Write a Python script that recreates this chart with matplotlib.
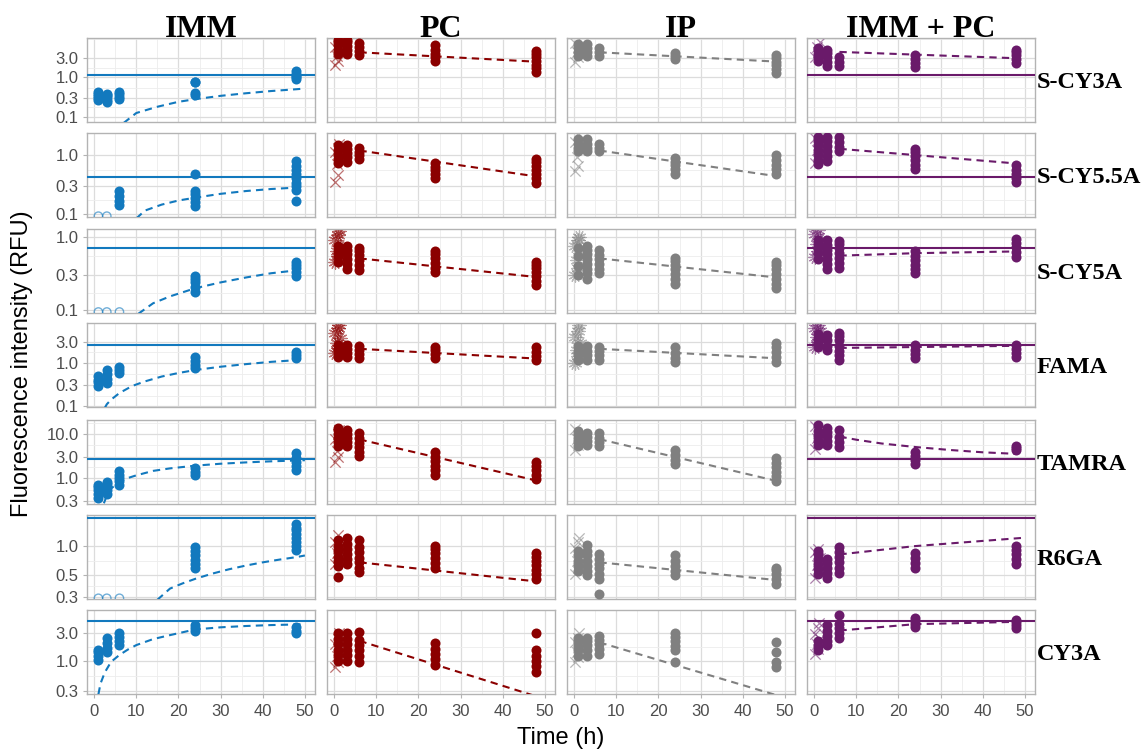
import matplotlib
matplotlib.use('Agg')
import matplotlib.pyplot as plt

# --------- Data ---------
times = [1, 3, 6, 24, 48]
cross_t = [0.3, 1.0, 0.6, 1.4, 0.1, 0.8, 1.2]
columns = ['IMM', 'PC', 'IP', 'IMM + PC']
dyes = ['S-CY3A', 'S-CY5.5A', 'S-CY5A', 'FAMA', 'TAMRA', 'R6GA', 'CY3A']
ref_level = [1.15, 0.42, 0.71, 2.56, 2.62, 1.93, 4.85]
y_ticks = [[0.1, 0.3, 1, 3], [0.1, 0.3, 1], [0.1, 0.3, 1], [0.1, 0.3, 1, 3],
           [0.3, 1, 3, 10], [0.3, 0.5, 1], [0.3, 1, 3]]
y_lims = [(0.074, 9.9), (0.09, 2.3), (0.092, 1.28), (0.095, 8.3),
          (0.26, 20.3), (0.285, 2.09), (0.265, 7.46)]

# points at times 1, 3, 6, 24, 48
imm_points = {
    'S-CY3A': [[0.27, 0.30, 0.34, 0.38, 0.42], [0.24, 0.27, 0.31, 0.35, 0.38], [0.28, 0.32, 0.37, 0.42],
               [0.36, 0.40, 0.74, 0.78], [0.9, 1.0, 1.1, 1.25, 1.45]],
    'S-CY5.5A': [[], [], [0.144, 0.17, 0.2, 0.25], [0.138, 0.16, 0.19, 0.22, 0.25, 0.48],
                 [0.17, 0.26, 0.3, 0.34, 0.4, 0.47, 0.55, 0.65, 0.77]],
    'S-CY5A': [[], [], [], [0.18, 0.21, 0.24, 0.27, 0.29], [0.29, 0.33, 0.38, 0.42, 0.46]],
    'FAMA': [[0.29, 0.35, 0.41, 0.49], [0.34, 0.43, 0.54, 0.68], [0.58, 0.68, 0.8],
             [0.75, 0.9, 1.1, 1.35], [1.28, 1.5, 1.77]],
    'TAMRA': [[0.36, 0.44, 0.53, 0.62, 0.7], [0.44, 0.53, 0.64, 0.74, 0.82], [0.7, 0.85, 1.0, 1.2, 1.47],
              [1.19, 1.4, 1.72], [1.55, 1.9, 2.3, 2.8, 3.6]],
    'R6GA': [[], [], [], [0.59, 0.65, 0.72, 0.8, 0.88, 0.97],
             [0.92, 1.0, 1.1, 1.2, 1.32, 1.45, 1.55, 1.68]],
    'CY3A': [[1.02, 1.2, 1.38, 1.55], [1.38, 1.65, 2.0, 2.5], [1.83, 2.2, 2.6, 2.96],
             [3.3, 3.7, 4.1], [2.95, 3.3, 3.8]],
}
imm_lod_times = {'S-CY5.5A': [1, 3], 'S-CY5A': [1, 3, 6], 'R6GA': [1, 3, 6]}
imm_lod_value = {'S-CY5.5A': 0.093, 'S-CY5A': 0.095, 'R6GA': 0.29}

pc_points = {
    'S-CY3A': [[3.9, 5.0, 6.5, 7.8, 9.0], [4.0, 5.0, 6.2, 7.8, 9.0], [3.7, 4.6, 5.8, 7.4],
               [2.6, 3.2, 4.0, 5.0, 6.6], [1.36, 1.7, 2.1, 2.6, 3.2, 3.9, 4.6]],
    'S-CY5.5A': [[0.71, 0.85, 1.0, 1.2, 1.44], [0.75, 0.9, 1.05, 1.25, 1.44], [0.83, 0.98, 1.1, 1.28],
                 [0.40, 0.47, 0.55, 0.63, 0.71], [0.34, 0.4, 0.47, 0.55, 0.65, 0.75, 0.83]],
    'S-CY5A': [[0.45, 0.55, 0.65, 0.75], [0.37, 0.43, 0.5, 0.58, 0.66, 0.74],
               [0.35, 0.41, 0.48, 0.56, 0.64, 0.70], [0.33, 0.38, 0.44, 0.51, 0.58, 0.64],
               [0.22, 0.25, 0.29, 0.33, 0.38, 0.42, 0.46]],
    'FAMA': [[1.35, 1.7, 2.1, 2.56], [1.35, 1.7, 2.1, 2.56], [1.28, 1.6, 2.0, 2.43],
             [1.28, 1.6, 2.0, 2.3], [1.15, 1.45, 1.8, 2.3]],
    'TAMRA': [[5.2, 6.5, 8.0, 10.0, 12.0, 13.4], [5.2, 6.5, 8.0, 10.0, 12.0], [3.1, 3.9, 4.9, 6.2, 7.8, 10.3],
              [1.2, 1.5, 1.9, 2.4, 3.0, 3.8], [0.96, 1.2, 1.5, 1.85, 2.24]],
    'R6GA': [[0.48, 0.62, 0.7, 0.78, 0.88, 1.0, 1.15], [0.66, 0.74, 0.83, 0.93, 1.05, 1.2],
             [0.54, 0.6, 0.68, 0.76, 0.86, 0.97, 1.15], [0.6, 0.67, 0.75, 0.84, 0.93, 1.0],
             [0.46, 0.51, 0.57, 0.64, 0.71, 0.78, 0.84]],
    'CY3A': [[1.0, 1.25, 1.55, 1.9, 2.4, 3.0], [1.0, 1.25, 1.55, 1.9, 2.4, 3.0], [0.96, 1.2, 1.5, 1.85, 2.3, 3.1],
             [0.85, 1.05, 1.3, 1.6, 1.98], [0.64, 0.8, 1.0, 1.2, 1.5, 2.96]],
}
pc_crosses = {
    'S-CY3A': [2.0, 2.6, 3.5, 4.5, 5.8],
    'S-CY5.5A': [0.35, 0.45, 0.7, 0.9, 1.1, 1.3, 1.5],
    'S-CY5A': [0.45, 0.55, 0.65, 0.75, 0.9, 1.05, 1.2],
    'FAMA': [1.67, 2.2, 2.9, 3.8, 5.0, 6.3, 7.4],
    'TAMRA': [2.27, 3.0, 4.0, 5.5, 7.5, 10.0, 12.0],
    'R6GA': [0.66, 0.75, 0.85, 0.97, 1.1, 1.29],
    'CY3A': [0.76, 0.95, 1.2, 1.5, 1.9, 2.4, 2.96],
}

ip_points = {
    'S-CY3A': [[3.5, 4.5, 5.8, 7.0], [3.5, 4.3, 5.5, 6.8], [3.5, 4.3, 5.5], [2.9, 3.4, 4.1],
               [1.28, 1.6, 2.0, 2.5, 3.0, 3.7]],
    'S-CY5.5A': [[1.13, 1.3, 1.5, 1.8], [1.13, 1.3, 1.5, 1.8], [1.13, 1.3, 1.5],
                 [0.48, 0.57, 0.67, 0.76, 0.86], [0.48, 0.57, 0.67, 0.8, 0.97]],
    'S-CY5A': [[0.3, 0.4, 0.55, 0.7], [0.27, 0.32, 0.37, 0.43, 0.5, 0.58, 0.66, 0.74],
               [0.32, 0.37, 0.43, 0.5, 0.57, 0.66], [0.23, 0.27, 0.31, 0.36, 0.42, 0.47, 0.51],
               [0.2, 0.23, 0.27, 0.31, 0.36, 0.41, 0.46]],
    'FAMA': [[1.15, 1.5, 1.9, 2.4], [1.15, 1.5, 1.9, 2.4], [1.15, 1.5, 1.9, 2.3],
             [1.04, 1.3, 1.7, 2.3], [1.04, 1.35, 1.8, 2.3, 2.85]],
    'TAMRA': [[5.2, 6.5, 8.0, 10.0, 11.4], [5.5, 7.0, 8.5, 10.3], [5.2, 6.5, 8.0, 10.3],
              [2.1, 2.6, 3.3, 4.2], [0.87, 1.1, 1.4, 1.75, 2.2, 2.76]],
    'R6GA': [[0.56, 0.63, 0.71, 0.8, 0.9], [0.5, 0.56, 0.63, 0.71, 0.8, 0.9, 1.02],
             [0.32, 0.46, 0.52, 0.59, 0.66, 0.74, 0.82], [0.5, 0.56, 0.63, 0.71, 0.8],
             [0.41, 0.46, 0.52, 0.57, 0.6]],
    'CY3A': [[1.22, 1.5, 1.8, 2.2, 2.5], [1.22, 1.5, 1.85, 2.2, 2.5], [1.32, 1.6, 1.95, 2.3, 2.7],
             [0.96, 1.5, 1.8, 2.2, 2.6, 3.0], [0.76, 0.93, 1.4, 2.09]],
}
ip_crosses = {
    'S-CY3A': [2.4, 3.2, 4.5, 6.0, 7.4],
    'S-CY5.5A': [0.54, 0.65, 0.9, 1.2, 1.6, 2.1],
    'S-CY5A': [0.3, 0.38, 0.48, 0.6, 0.75, 0.9, 1.0],
    'FAMA': [1.0, 1.4, 2.0, 2.8, 4.0, 5.5, 7.4],
    'TAMRA': [4.2, 5.5, 7.5, 10.0, 13.0],
    'R6GA': [0.52, 0.6, 0.7, 0.82, 0.96, 1.1, 1.2],
    'CY3A': [0.93, 1.15, 1.4, 1.7, 2.1, 2.5, 3.0],
}

combo_points = {
    'S-CY3A': [[2.6, 3.2, 4.0, 5.0, 5.5], [1.93, 2.5, 3.3, 4.2, 4.9], [1.93, 2.5, 3.3],
               [1.82, 2.3, 2.9, 3.67], [2.3, 2.9, 3.6, 4.3, 4.9]],
    'S-CY5.5A': [[0.69, 0.82, 1.0, 1.2, 1.45, 1.7, 1.97], [0.77, 0.95, 1.15, 1.4, 1.7, 1.97],
                 [1.13, 1.35, 1.6, 1.97], [0.58, 0.68, 0.8, 0.95, 1.1, 1.23], [0.35, 0.4, 0.47, 0.55, 0.66]],
    'S-CY5A': [[0.5, 0.6, 0.7, 0.8, 0.9], [0.37, 0.43, 0.5, 0.58, 0.67, 0.77, 0.9],
               [0.38, 0.44, 0.51, 0.6, 0.7, 0.8, 0.87], [0.32, 0.37, 0.42, 0.48, 0.55, 0.64],
               [0.54, 0.62, 0.72, 0.82, 0.93]],
    'FAMA': [[2.34, 3.0, 3.8, 4.6], [1.97, 2.5, 3.3, 4.4], [1.15, 1.5, 1.9, 2.5, 3.3, 4.2, 4.9],
             [1.28, 1.6, 2.0, 2.56], [1.35, 1.7, 2.1, 2.56]],
    'TAMRA': [[5.5, 7.0, 9.0, 11.5, 15.6], [5.5, 7.0, 9.0, 11.0, 13.4], [4.9, 6.5, 8.5, 12.0],
              [2.1, 2.6, 3.2, 3.8], [4.2, 4.7, 5.2]],
    'R6GA': [[0.52, 0.58, 0.66, 0.74, 0.82, 0.9], [0.47, 0.53, 0.6, 0.67, 0.74],
             [0.53, 0.6, 0.68, 0.77, 0.87, 0.97], [0.6, 0.67, 0.75, 0.84], [0.66, 0.74, 0.83, 0.92, 1.0]],
    'CY3A': [[1.5, 1.8, 2.2], [1.83, 2.2, 2.7, 3.3, 4.1], [2.5, 3.0, 3.6, 4.3, 6.1],
             [3.8, 4.3, 4.8, 5.4], [3.6, 4.1, 4.6, 5.0]],
}
combo_crosses = {
    'S-CY3A': [3.3, 4.5, 6.0, 8.0],
    'S-CY5.5A': [0.71, 0.9, 1.2, 1.5, 1.9, 2.2],
    'S-CY5A': [0.53, 0.65, 0.8, 0.95, 1.1, 1.24],
    'FAMA': [2.34, 3.0, 4.0, 5.3, 6.5, 7.4],
    'TAMRA': [4.6, 6.0, 8.0, 11.0, 15.0, 18.6],
    'R6GA': [0.47, 0.55, 0.64, 0.75, 0.86, 0.94],
    'CY3A': [1.32, 1.6, 1.95, 2.4, 2.9, 3.6, 4.4],
}

# fitted (dashed) curves: (time, value)
imm_fit = {
    'S-CY3A': ([7, 10, 15, 20, 24, 30, 36, 42, 48, 49],
               [0.07, 0.125, 0.18, 0.24, 0.28, 0.34, 0.395, 0.45, 0.5, 0.51]),
    'S-CY5.5A': ([10, 12, 16, 20, 24, 30, 36, 42, 48, 50],
                 [0.085, 0.115, 0.145, 0.17, 0.19, 0.22, 0.245, 0.265, 0.28, 0.29]),
    'S-CY5A': ([10.5, 14, 18, 24, 30, 36, 42, 48, 50],
               [0.09, 0.125, 0.155, 0.2, 0.24, 0.28, 0.32, 0.35, 0.36]),
    'FAMA': ([2.5, 3, 4, 6, 9, 12, 16, 20, 24, 30, 36, 42, 48, 50],
             [0.09, 0.11, 0.14, 0.2, 0.29, 0.37, 0.48, 0.58, 0.68, 0.81, 0.93, 1.05, 1.15, 1.18]),
    'TAMRA': ([2.3, 3, 4, 6, 8, 10, 14, 18, 24, 30, 36, 42, 48, 50],
              [0.27, 0.4, 0.58, 0.82, 1.0, 1.15, 1.45, 1.65, 1.9, 2.1, 2.25, 2.38, 2.48, 2.52]),
    'R6GA': ([15, 18, 21, 24, 28, 32, 36, 40, 44, 48, 50],
             [0.28, 0.365, 0.413, 0.46, 0.52, 0.577, 0.63, 0.68, 0.726, 0.77, 0.8]),
    'CY3A': ([1, 1.5, 2.5, 4, 6, 8, 10, 14, 18, 24, 30, 36, 42, 48, 50],
             [0.26, 0.4, 0.62, 0.95, 1.25, 1.55, 1.85, 2.35, 2.75, 3.45, 3.75, 3.95, 4.1, 4.2, 4.25]),
}
pc_fit = {
    'S-CY3A': ([6, 49], [4.3, 2.45]), 'S-CY5.5A': ([6, 50], [1.17, 0.41]),
    'S-CY5A': ([6, 49], [0.51, 0.28]), 'FAMA': ([6, 48], [2.1, 1.25]),
    'TAMRA': ([6, 47.5], [7.4, 0.9]), 'R6GA': ([6, 48.5], [0.68, 0.43]),
    'CY3A': ([6, 50], [2.19, 0.217]),
}
ip_fit = {
    'S-CY3A': ([6, 48], [4.3, 2.5]), 'S-CY5.5A': ([6, 49.5], [1.17, 0.42]),
    'S-CY5A': ([6, 48], [0.51, 0.28]), 'FAMA': ([6, 46], [2.1, 1.3]),
    'TAMRA': ([6, 48], [7.5, 0.86]), 'R6GA': ([6, 49.5], [0.68, 0.44]),
    'CY3A': ([6, 50], [2.06, 0.229]),
}
combo_fit = {
    'S-CY3A': ([6, 48.5], [4.4, 3.03]), 'S-CY5.5A': ([6, 49], [1.25, 0.70]),
    'S-CY5A': ([6, 24, 49], [0.555, 0.6, 0.635]), 'FAMA': ([6, 49], [2.2, 2.47]),
    'TAMRA': ([6, 10, 16, 24, 32, 40, 48], [8.6, 7.3, 6.0, 5.0, 4.3, 3.8, 3.5]),
    'R6GA': ([6, 24, 50], [0.82, 1.0, 1.22]),
    'CY3A': ([6, 24, 48], [3.3, 4.25, 4.66]),
}

col_colors = ['#1279be', '#8b0000', '#808080', '#6a1a6a']
points = [imm_points, pc_points, ip_points, combo_points]
crosses = [None, pc_crosses, ip_crosses, combo_crosses]
fits = [imm_fit, pc_fit, ip_fit, combo_fit]
star_rows = ['S-CY5A', 'FAMA']

# --------- Layout (pixels) ---------
W, H = 1146, 750
col_left = [87, 327, 567, 807]
panel_w = 228
row_top = [38, 133, 229, 323, 420, 515, 610]
panel_h = 84

plt.rcParams['font.family'] = ['Liberation Sans', 'DejaVu Sans']
fig = plt.figure(figsize=(W / 100, H / 100), dpi=100)

for r, dye in enumerate(dyes):
    ticks = y_ticks[r]
    ext = [0.01, 0.03] + ticks + [30, 100] if ticks[0] == 0.1 else [0.03, 0.1] + ticks + [30, 100]
    ext = sorted(set(ext))
    minors = [(a * b) ** 0.5 for a, b in zip(ext[:-1], ext[1:])]
    for c in range(4):
        color = col_colors[c]
        ax = fig.add_axes([col_left[c] / W, 1 - (row_top[r] + panel_h) / H, panel_w / W, panel_h / H])
        ax.set_yscale('log')
        ax.set_xlim(-1.7, 52.4)
        ax.set_ylim(*y_lims[r])

        # grid
        for x in range(0, 51, 10):
            ax.axvline(x, color='#dcdcdc', lw=0.9, zorder=0)
        for x in range(5, 51, 10):
            ax.axvline(x, color='#ededed', lw=0.6, zorder=0)
        for y in ext:
            ax.axhline(y, color='#dcdcdc', lw=0.9, zorder=0)
        for y in minors:
            ax.axhline(y, color='#ededed', lw=0.6, zorder=0)

        # points
        for t, vals in zip(times, points[c][dye]):
            ax.scatter([t] * len(vals), vals, s=52, color=color, lw=0, zorder=3)
        if c == 0 and dye in imm_lod_times:
            lt = imm_lod_times[dye]
            ax.scatter(lt, [imm_lod_value[dye]] * len(lt), s=36, facecolors='none',
                       edgecolors=color, alpha=0.6, lw=1, zorder=3)
        if crosses[c] is not None:
            vals = crosses[c][dye]
            mk = (12, 2, 0) if dye in star_rows else 'x'
            sz = 90 if dye in star_rows else 55
            ax.scatter(cross_t[:len(vals)], vals, s=sz, marker=mk, color=color,
                       alpha=0.55, lw=0.9, zorder=2)

        # fitted curve and reference level
        ft, fy = fits[c][dye]
        ax.plot(ft, fy, color=color, lw=1.5, ls=(0, (3.5, 2.5)), zorder=4)
        if c in (0, 3):
            ax.axhline(ref_level[r], color=color, lw=1.5, zorder=4)

        # axes style
        for s in ax.spines.values():
            s.set_color('#b3b3b3')
            s.set_linewidth(1.0)
        ax.set_yticks(ticks)
        ax.set_yticklabels(['%.1f' % v for v in ticks])
        ax.yaxis.set_minor_locator(matplotlib.ticker.NullLocator())
        ax.set_xticks(range(0, 51, 10))
        ax.tick_params(axis='both', colors='#b3b3b3', labelcolor='#4d4d4d',
                       labelsize=12, length=3, width=0.8, pad=3)
        ax.tick_params(axis='y', left=(c == 0), labelleft=(c == 0))
        ax.tick_params(axis='x', bottom=(r == 6), labelbottom=(r == 6), pad=4)

    # row strip label
    fig.text(1037 / W, 1 - (row_top[r] + panel_h / 2 + 8.3) / H, dye, ha='left', va='baseline',
             fontsize=17.5, fontweight='bold', family='Liberation Serif')

for c, name in enumerate(columns):
    fig.text((col_left[c] + panel_w / 2) / W, 1 - 36.7 / H, name, ha='center', va='baseline',
             fontsize=23, fontweight='bold', family='Liberation Serif')

fig.text(22 / W, 1 - 364 / H, 'Fluorescence intensity (RFU)', rotation=90,
         ha='center', va='center', fontsize=17)
fig.text(561 / W, 1 - 744 / H, 'Time (h)', ha='center', va='baseline', fontsize=17)

plt.savefig('out.png', dpi=100)
